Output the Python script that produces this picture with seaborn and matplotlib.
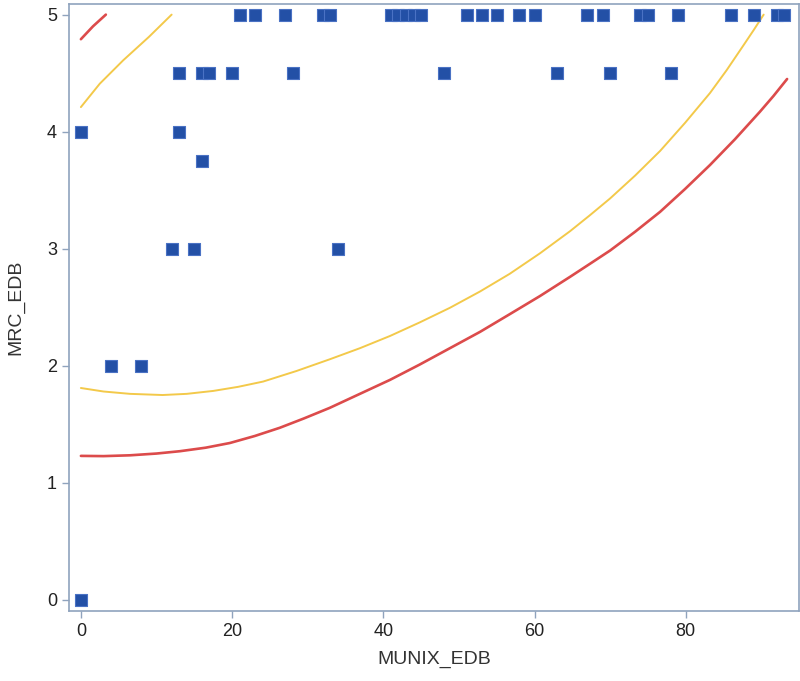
import matplotlib
matplotlib.use("Agg")
import matplotlib.pyplot as plt
import seaborn as sns
import pandas as pd

# scatter points
munix = [0, 0, 4, 8, 12, 13, 13, 15, 16, 16, 17, 20, 21, 23, 27, 28, 32, 33, 34,
         41, 42, 43, 44, 45, 48, 51, 53, 55, 58, 60, 63, 67, 69, 70, 74, 75, 78,
         79, 86, 89, 92, 93]
mrc = [4, 0, 2, 2, 3, 4.5, 4, 3, 4.5, 3.75, 4.5, 4.5, 5, 5, 5, 4.5, 5, 5, 3,
       5, 5, 5, 5, 5, 4.5, 5, 5, 5, 5, 5, 4.5, 5, 5, 4.5, 5, 5, 4.5,
       5, 5, 5, 5, 5]

# band curves
red_low_x = [0, 3, 6.5, 10, 13.1, 16.5, 19.7, 23, 26.3, 29.5, 32.9, 36.9, 40.9, 44.8, 48.8,
             52.8, 56.7, 60.7, 64.7, 67.3, 70, 73.3, 76.6, 79.9, 83.2, 86.5, 89.8, 91.6, 93.4]
red_low_y = [1.23, 1.228, 1.235, 1.25, 1.27, 1.30, 1.34, 1.40, 1.47, 1.55, 1.64, 1.76, 1.88,
             2.01, 2.15, 2.29, 2.44, 2.595, 2.76, 2.87, 2.985, 3.145, 3.315, 3.51, 3.715,
             3.935, 4.17, 4.305, 4.45]
yel_low_x = [0, 3, 6.5, 10.8, 14, 17.5, 20.8, 24.1, 28.5, 32.9, 36.9, 40.9, 44.8, 48.8, 52.8,
             56.7, 60.7, 64.7, 67.3, 70, 73.3, 76.6, 79.9, 83.2, 85.4, 87.6, 89, 90.3]
yel_low_y = [1.81, 1.78, 1.76, 1.75, 1.76, 1.785, 1.82, 1.865, 1.955, 2.055, 2.15, 2.255,
             2.37, 2.495, 2.635, 2.785, 2.96, 3.15, 3.285, 3.43, 3.625, 3.835, 4.075,
             4.33, 4.525, 4.735, 4.87, 5.0]
yel_up_x = [0, 2.5, 5.6, 9, 12.0]
yel_up_y = [4.21, 4.41, 4.61, 4.81, 5.0]
red_up_x = [0, 1.6, 3.3]
red_up_y = [4.79, 4.90, 5.0]

df = pd.DataFrame({"MUNIX_EDB": munix, "MRC_EDB": mrc})

sns.set_style("white")
plt.rcParams["font.family"] = ["Liberation Sans", "DejaVu Sans"]
fig = plt.figure(figsize=(8, 6.81), dpi=100)
ax = fig.add_axes([0.086, 0.103, 0.913, 0.891])

red = "#dc4b4b"
yel = "#f3c94a"
sns.lineplot(x=red_low_x, y=red_low_y, color=red, lw=1.9, sort=False, ax=ax)
sns.lineplot(x=red_up_x, y=red_up_y, color=red, lw=1.9, sort=False, ax=ax)
sns.lineplot(x=yel_low_x, y=yel_low_y, color=yel, lw=1.4, sort=False, ax=ax)
sns.lineplot(x=yel_up_x, y=yel_up_y, color=yel, lw=1.4, sort=False, ax=ax)

sns.scatterplot(data=df, x="MUNIX_EDB", y="MRC_EDB", marker="s", s=80,
                color="#2350a6", edgecolor="#4a72c4", linewidth=0.8, zorder=3, ax=ax)

ax.set_xlim(-1.6, 95.0)
ax.set_ylim(-0.094, 5.09)
ax.set_xticks([0, 20, 40, 60, 80])
ax.set_yticks([0, 1, 2, 3, 4, 5])
for s in ax.spines.values():
    s.set_color("#8fa3bd")
    s.set_linewidth(1.2)
ax.tick_params(direction="out", length=5, width=1, color="#8fa3bd",
               labelsize=13, labelcolor="#222222", bottom=True, left=True)
ax.set_xlabel("MUNIX_EDB", fontsize=14, color="#333333", labelpad=8)
ax.set_ylabel("MRC_EDB", fontsize=14, color="#333333", labelpad=16)

fig.savefig("out.png", dpi=100)
